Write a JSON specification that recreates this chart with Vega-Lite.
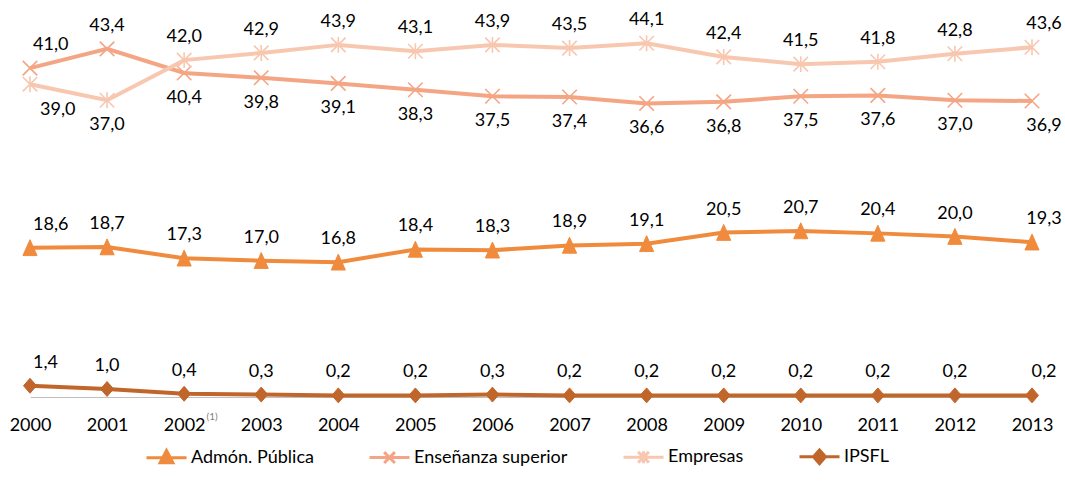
{
  "$schema": "https://vega.github.io/schema/vega-lite/v6.json",
  "width": 1002,
  "height": 385,
  "autosize": "none",
  "padding": {"left": 30, "top": 12, "right": 33, "bottom": 97},
  "config": {
    "view": {"stroke": null},
    "font": "Lato",
    "locale": {"number": {"decimal": ",", "thousands": ".", "grouping": [3], "currency": ["", " €"]}}
  },
  "data": {
    "values": [
      {"year": 2000, "series": "Admón. Pública", "value": 18.6},
      {"year": 2001, "series": "Admón. Pública", "value": 18.7},
      {"year": 2002, "series": "Admón. Pública", "value": 17.3},
      {"year": 2003, "series": "Admón. Pública", "value": 17.0},
      {"year": 2004, "series": "Admón. Pública", "value": 16.8},
      {"year": 2005, "series": "Admón. Pública", "value": 18.4},
      {"year": 2006, "series": "Admón. Pública", "value": 18.3},
      {"year": 2007, "series": "Admón. Pública", "value": 18.9},
      {"year": 2008, "series": "Admón. Pública", "value": 19.1},
      {"year": 2009, "series": "Admón. Pública", "value": 20.5},
      {"year": 2010, "series": "Admón. Pública", "value": 20.7},
      {"year": 2011, "series": "Admón. Pública", "value": 20.4},
      {"year": 2012, "series": "Admón. Pública", "value": 20.0},
      {"year": 2013, "series": "Admón. Pública", "value": 19.3},
      {"year": 2000, "series": "Enseñanza superior", "value": 41.0},
      {"year": 2001, "series": "Enseñanza superior", "value": 43.4},
      {"year": 2002, "series": "Enseñanza superior", "value": 40.4},
      {"year": 2003, "series": "Enseñanza superior", "value": 39.8},
      {"year": 2004, "series": "Enseñanza superior", "value": 39.1},
      {"year": 2005, "series": "Enseñanza superior", "value": 38.3},
      {"year": 2006, "series": "Enseñanza superior", "value": 37.5},
      {"year": 2007, "series": "Enseñanza superior", "value": 37.4},
      {"year": 2008, "series": "Enseñanza superior", "value": 36.6},
      {"year": 2009, "series": "Enseñanza superior", "value": 36.8},
      {"year": 2010, "series": "Enseñanza superior", "value": 37.5},
      {"year": 2011, "series": "Enseñanza superior", "value": 37.6},
      {"year": 2012, "series": "Enseñanza superior", "value": 37.0},
      {"year": 2013, "series": "Enseñanza superior", "value": 36.9},
      {"year": 2000, "series": "Empresas", "value": 39.0},
      {"year": 2001, "series": "Empresas", "value": 37.0},
      {"year": 2002, "series": "Empresas", "value": 42.0},
      {"year": 2003, "series": "Empresas", "value": 42.9},
      {"year": 2004, "series": "Empresas", "value": 43.9},
      {"year": 2005, "series": "Empresas", "value": 43.1},
      {"year": 2006, "series": "Empresas", "value": 43.9},
      {"year": 2007, "series": "Empresas", "value": 43.5},
      {"year": 2008, "series": "Empresas", "value": 44.1},
      {"year": 2009, "series": "Empresas", "value": 42.4},
      {"year": 2010, "series": "Empresas", "value": 41.5},
      {"year": 2011, "series": "Empresas", "value": 41.8},
      {"year": 2012, "series": "Empresas", "value": 42.8},
      {"year": 2013, "series": "Empresas", "value": 43.6},
      {"year": 2000, "series": "IPSFL", "value": 1.4},
      {"year": 2001, "series": "IPSFL", "value": 1.0},
      {"year": 2002, "series": "IPSFL", "value": 0.4},
      {"year": 2003, "series": "IPSFL", "value": 0.3},
      {"year": 2004, "series": "IPSFL", "value": 0.2},
      {"year": 2005, "series": "IPSFL", "value": 0.2},
      {"year": 2006, "series": "IPSFL", "value": 0.3},
      {"year": 2007, "series": "IPSFL", "value": 0.2},
      {"year": 2008, "series": "IPSFL", "value": 0.2},
      {"year": 2009, "series": "IPSFL", "value": 0.2},
      {"year": 2010, "series": "IPSFL", "value": 0.2},
      {"year": 2011, "series": "IPSFL", "value": 0.2},
      {"year": 2012, "series": "IPSFL", "value": 0.2},
      {"year": 2013, "series": "IPSFL", "value": 0.2}
    ]
  },
  "encoding": {
    "x": {
      "field": "year", "type": "ordinal",
      "scale": {"type": "point", "padding": 0},
      "axis": {
        "title": null, "labelAngle": 0, "labelFontSize": 18, "labelColor": "#000000",
        "labelBaseline": "middle", "labelPadding": 28, "ticks": false,
        "domainColor": "#BFBFBF", "domainWidth": 1, "grid": false
      }
    },
    "y": {"field": "value", "type": "quantitative", "scale": {"domain": [0, 48]}, "axis": null}
  },
  "layer": [
    {
      "mark": {"type": "line", "strokeWidth": 4},
      "encoding": {
        "color": {
          "field": "series", "type": "nominal",
          "scale": {"domain": ["Admón. Pública", "Enseñanza superior", "Empresas", "IPSFL"], "range": ["#F08B3D", "#F4A584", "#F8C7B0", "#C0662B"]},
          "legend": {
            "title": null, "orient": "none", "legendX": 115, "legendY": 423, "direction": "horizontal",
            "symbolSize": 1600, "labelFontSize": 18, "labelColor": "#000000", "columnPadding": 49,
            "labelOffset": 3, "symbolOffset": 0, "padding": 0,
            "encode": {
              "symbols": {
                "update": {
                  "shape": {"signal": "datum.value == 'Admón. Pública' ? 'M-1,0L1,0M0,-0.36L0.32,0.26L-0.32,0.26Z' : datum.value == 'Enseñanza superior' ? 'M-1,0L1,0M-0.27,-0.27L0.27,0.27M-0.27,0.27L0.27,-0.27' : datum.value == 'Empresas' ? 'M-1,0L1,0M-0.27,-0.27L0.27,0.27M-0.27,0.27L0.27,-0.27M0,-0.3L0,0.3' : 'M-1,0L1,0M0,-0.34L0.3,0L0,0.34L-0.3,0Z'"},
                  "fill": {"scale": "color", "field": "value"},
                  "stroke": {"scale": "color", "field": "value"},
                  "strokeWidth": {"value": 3},
                  "opacity": {"value": 1}
                }
              }
            }
          }
        }
      }
    },
    {
      "transform": [{"filter": "datum.series=='Admón. Pública'"}],
      "mark": {"type": "point", "filled": true, "shape": "M0,-1.15L1,1.1L-1,1.1Z", "size": 200, "fill": "#F08B3D", "stroke": "#F08B3D", "strokeWidth": 1, "opacity": 1}
    },
    {
      "transform": [{"filter": "datum.series=='Enseñanza superior'"}],
      "mark": {"type": "point", "filled": false, "shape": "M-1,-1L1,1M-1,1L1,-1", "size": 210, "stroke": "#F4A584", "strokeWidth": 1.6, "opacity": 1}
    },
    {
      "transform": [{"filter": "datum.series=='Empresas'"}],
      "mark": {"type": "point", "filled": false, "shape": "M-1,-1L1,1M-1,1L1,-1M0,-1.1L0,1.1", "size": 210, "stroke": "#F8C7B0", "strokeWidth": 1.6, "opacity": 1}
    },
    {
      "transform": [{"filter": "datum.series=='IPSFL'"}],
      "mark": {"type": "point", "filled": true, "shape": "M0,-1.15L1,0L0,1.15L-1,0Z", "size": 169, "fill": "#C0662B", "stroke": "#C0662B", "strokeWidth": 1, "opacity": 1}
    },
    {
      "transform": [{"filter": "(datum.series=='Admón. Pública' || datum.series=='IPSFL' || (datum.series=='Enseñanza superior' && datum.year<2002) || (datum.series=='Empresas' && datum.year>=2002)) && datum.year>2000 && datum.year<2013"}],
      "mark": {"type": "text", "dy": -23, "fontSize": 18, "color": "#000000", "baseline": "middle"},
      "encoding": {"text": {"field": "value", "type": "quantitative", "format": ".1f"}}
    },
    {
      "transform": [{"filter": "(datum.series=='Admón. Pública' || datum.series=='IPSFL' || (datum.series=='Enseñanza superior' && datum.year<2002) || (datum.series=='Empresas' && datum.year>=2002)) && datum.year==2000"}],
      "mark": {"type": "text", "dy": -23, "dx": 3, "align": "left", "fontSize": 18, "color": "#000000", "baseline": "middle"},
      "encoding": {"text": {"field": "value", "type": "quantitative", "format": ".1f"}}
    },
    {
      "transform": [{"filter": "(datum.series=='Admón. Pública' || datum.series=='IPSFL' || (datum.series=='Enseñanza superior' && datum.year<2002) || (datum.series=='Empresas' && datum.year>=2002)) && datum.year==2013"}],
      "mark": {"type": "text", "dy": -23, "dx": 12, "fontSize": 18, "color": "#000000", "baseline": "middle"},
      "encoding": {"text": {"field": "value", "type": "quantitative", "format": ".1f"}}
    },
    {
      "transform": [{"filter": "((datum.series=='Enseñanza superior' && datum.year>=2002) || (datum.series=='Empresas' && datum.year<2002)) && datum.year>2000 && datum.year<2013"}],
      "mark": {"type": "text", "dy": 25, "fontSize": 18, "color": "#000000", "baseline": "middle"},
      "encoding": {"text": {"field": "value", "type": "quantitative", "format": ".1f"}}
    },
    {
      "transform": [{"filter": "((datum.series=='Enseñanza superior' && datum.year>=2002) || (datum.series=='Empresas' && datum.year<2002)) && datum.year==2000"}],
      "mark": {"type": "text", "dy": 26, "dx": 10, "align": "left", "fontSize": 18, "color": "#000000", "baseline": "middle"},
      "encoding": {"text": {"field": "value", "type": "quantitative", "format": ".1f"}}
    },
    {
      "transform": [{"filter": "((datum.series=='Enseñanza superior' && datum.year>=2002) || (datum.series=='Empresas' && datum.year<2002)) && datum.year==2013"}],
      "mark": {"type": "text", "dy": 25, "dx": 12, "fontSize": 18, "color": "#000000", "baseline": "middle"},
      "encoding": {"text": {"field": "value", "type": "quantitative", "format": ".1f"}}
    },
    {
      "transform": [{"filter": "datum.series=='IPSFL' && datum.year==2002"}],
      "mark": {"type": "text", "dx": 28, "dy": 20, "fontSize": 10, "color": "#7F7F7F", "baseline": "middle"},
      "encoding": {"y": {"datum": 0}, "text": {"value": "(1)"}}
    }
  ]
}
